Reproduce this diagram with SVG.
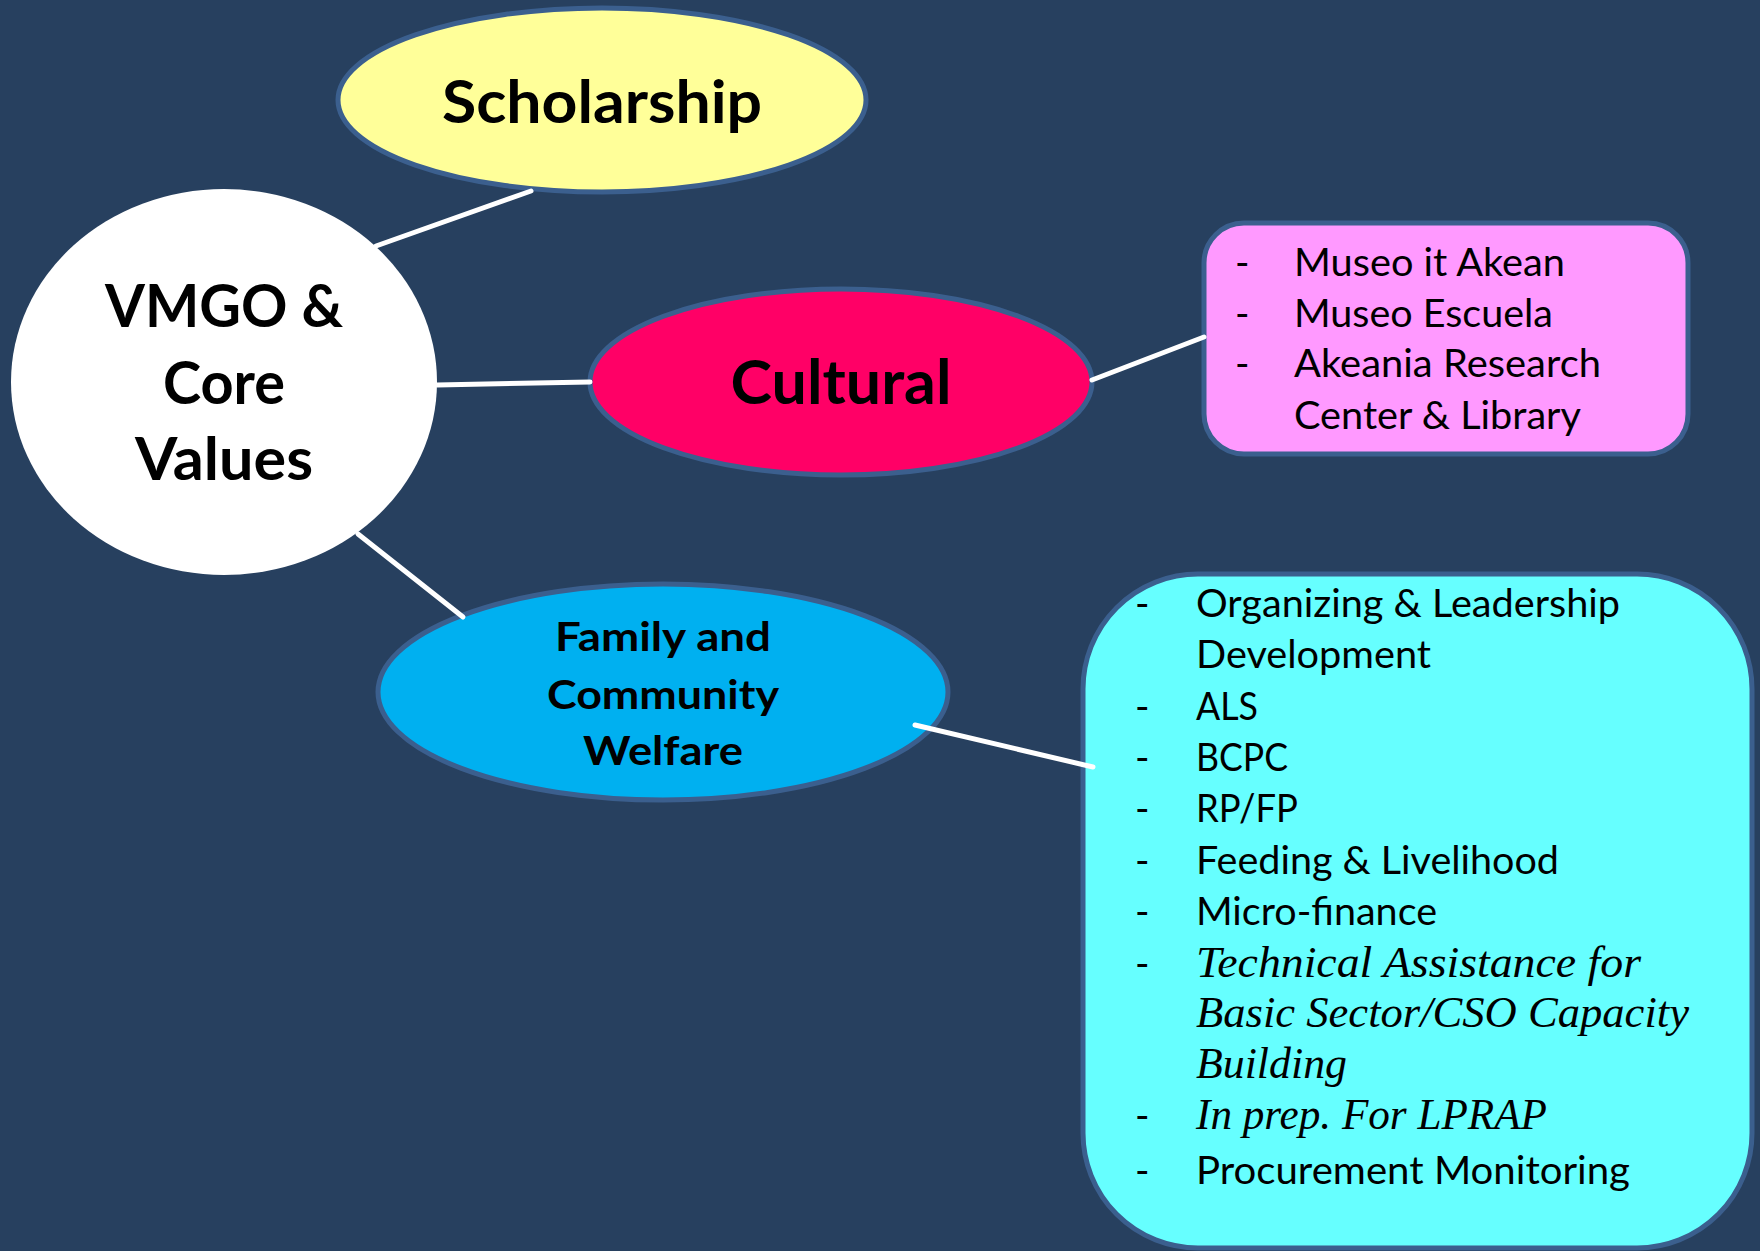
<svg xmlns="http://www.w3.org/2000/svg" width="1760" height="1251" viewBox="0 0 1760 1251">
<style>
.node{stroke:#3B5F8E;stroke-width:5}
.conn{stroke:#FFFFFF;stroke-width:5;stroke-linecap:round;fill:none}
.big{font-family:Lato,"Open Sans","Liberation Sans",sans-serif;font-weight:700;fill:#000;text-anchor:middle}
.item{font-family:Lato,"Open Sans","Liberation Sans",sans-serif;font-size:39px;fill:#000}
.ital{font-family:"Liberation Serif","DejaVu Serif",serif;font-style:italic;font-size:44px;fill:#000}
</style>
<rect width="1760" height="1251" fill="#27405F"/>
<g id="scholarship">
<ellipse class="node" cx="602" cy="100" rx="264" ry="92" fill="#FFFF99"/>
<text class="big" x="602" y="123" font-size="60" textLength="320" lengthAdjust="spacingAndGlyphs">Scholarship</text>
</g>
<g id="vmgo">
<ellipse cx="224" cy="382" rx="213" ry="193" fill="#FFFFFF"/>
<text class="big" x="224" y="327" font-size="59" textLength="238" lengthAdjust="spacingAndGlyphs">VMGO &amp;</text>
<text class="big" x="224" y="404" font-size="59" textLength="122" lengthAdjust="spacingAndGlyphs">Core</text>
<text class="big" x="224" y="480" font-size="59" textLength="178" lengthAdjust="spacingAndGlyphs">Values</text>
</g>
<g id="cultural">
<ellipse class="node" cx="841" cy="382" rx="251" ry="93" fill="#FF0066"/>
<text class="big" x="841" y="404" font-size="61" textLength="221" lengthAdjust="spacingAndGlyphs">Cultural</text>
</g>
<g id="family">
<ellipse class="node" cx="663" cy="692" rx="285" ry="108" fill="#00B0F0"/>
<text class="big" x="663" y="651" font-size="41" textLength="216" lengthAdjust="spacingAndGlyphs">Family and</text>
<text class="big" x="663" y="709" font-size="41" textLength="232" lengthAdjust="spacingAndGlyphs">Community</text>
<text class="big" x="663" y="765" font-size="41" textLength="160" lengthAdjust="spacingAndGlyphs">Welfare</text>
</g>
<g id="cultural-list">
<rect class="node" x="1204" y="223" width="484" height="231" rx="40" fill="#FF99FF"/>
<text class="item" x="1235" y="276">-</text>
<text class="item" x="1294" y="276" textLength="271" lengthAdjust="spacingAndGlyphs">Museo it Akean</text>
<text class="item" x="1235" y="327">-</text>
<text class="item" x="1294" y="327" textLength="259" lengthAdjust="spacingAndGlyphs">Museo Escuela</text>
<text class="item" x="1235" y="377">-</text>
<text class="item" x="1294" y="377" textLength="307" lengthAdjust="spacingAndGlyphs">Akeania Research</text>
<text class="item" x="1294" y="429" textLength="287" lengthAdjust="spacingAndGlyphs">Center &amp; Library</text>
</g>
<g id="welfare-list">
<rect class="node" x="1083" y="574" width="669" height="674" rx="115" fill="#66FFFF"/>
<text class="item" x="1135" y="617">-</text>
<text class="item" x="1196" y="617" textLength="424" lengthAdjust="spacingAndGlyphs">Organizing &amp; Leadership</text>
<text class="item" x="1196" y="668" textLength="235" lengthAdjust="spacingAndGlyphs">Development</text>
<text class="item" x="1135" y="720">-</text>
<text class="item" x="1196" y="720" textLength="62" lengthAdjust="spacingAndGlyphs">ALS</text>
<text class="item" x="1135" y="771">-</text>
<text class="item" x="1196" y="771" textLength="92" lengthAdjust="spacingAndGlyphs">BCPC</text>
<text class="item" x="1135" y="822">-</text>
<text class="item" x="1196" y="822" textLength="102" lengthAdjust="spacingAndGlyphs">RP/FP</text>
<text class="item" x="1135" y="874">-</text>
<text class="item" x="1196" y="874" textLength="363" lengthAdjust="spacingAndGlyphs">Feeding &amp; Livelihood</text>
<text class="item" x="1135" y="925">-</text>
<text class="item" x="1196" y="925" textLength="241" lengthAdjust="spacingAndGlyphs">Micro-finance</text>
<text class="item" x="1135" y="977">-</text>
<text class="ital" x="1196" y="977" textLength="445" lengthAdjust="spacingAndGlyphs">Technical Assistance for</text>
<text class="ital" x="1196" y="1027" textLength="493" lengthAdjust="spacingAndGlyphs">Basic Sector/CSO Capacity</text>
<text class="ital" x="1196" y="1078" textLength="151" lengthAdjust="spacingAndGlyphs">Building</text>
<text class="item" x="1135" y="1129">-</text>
<text class="ital" x="1196" y="1129" textLength="351" lengthAdjust="spacingAndGlyphs">In prep. For LPRAP</text>
<text class="item" x="1135" y="1184">-</text>
<text class="item" x="1196" y="1184" textLength="434" lengthAdjust="spacingAndGlyphs">Procurement Monitoring</text>
</g>
<g id="connectors">
<line class="conn" x1="376" y1="246" x2="531" y2="191"/>
<line class="conn" x1="437" y1="385" x2="590" y2="382"/>
<line class="conn" x1="358" y1="534" x2="463" y2="617"/>
<line class="conn" x1="1092" y1="380" x2="1204" y2="337"/>
<line class="conn" x1="915" y1="725" x2="1093" y2="767"/>
</g>
</svg>
